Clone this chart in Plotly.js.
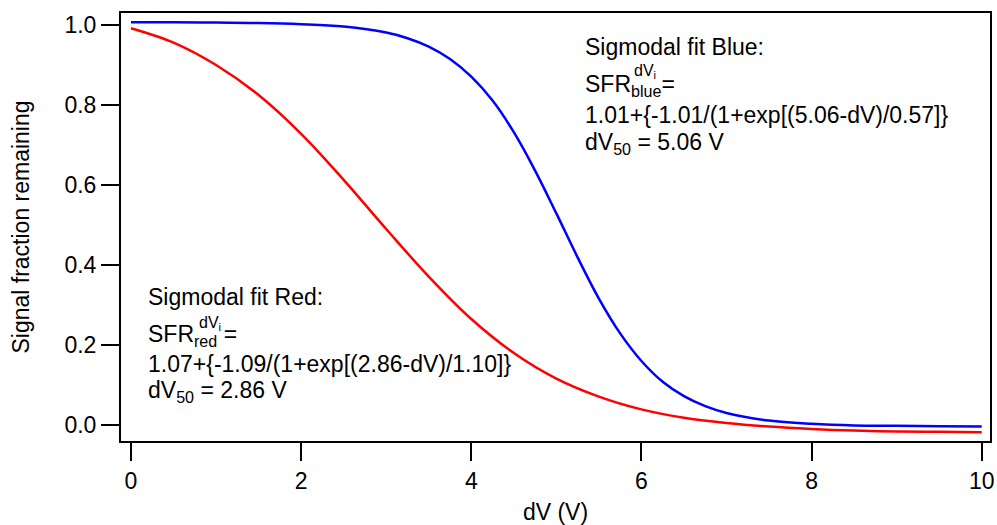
<!DOCTYPE html>
<html>
<head>
<meta charset="utf-8">
<script src="https://cdn.plot.ly/plotly-3.0.1.min.js"></script>
<style>html,body{margin:0;padding:0;background:#fff;}#chart{width:997px;height:525px;}</style>
</head>
<body>
<div id="chart"></div>
<script>
// Blue curve
const blueX = [0,0.5,1,1.5,2,2.5,3,3.25,3.5,3.75,4,4.25,4.5,4.75,5,5.25,5.5,5.75,6,6.25,6.5,6.75,7,7.5,8,8.5,9,9.5,10];
const blueY = [1.007,1.007,1.006,1.005,1.002,0.996,0.981,0.967,0.946,0.915,0.871,0.811,0.732,0.636,0.529,0.419,0.316,0.229,0.160,0.108,0.072,0.047,0.030,0.011,0.003,-0.001,-0.002,-0.003,-0.004];
// Red curve
const redX = [0,0.5,1,1.5,2,2.5,3,3.5,4,4.5,5,5.5,6,6.5,7,7.5,8,8.5,9,9.5,10];
const redY = [0.992,0.956,0.900,0.825,0.728,0.613,0.490,0.371,0.265,0.180,0.116,0.071,0.039,0.018,0.005,-0.004,-0.010,-0.014,-0.016,-0.017,-0.018];
const xTicks = [0,2,4,6,8,10];
const yTicks = [0.0,0.2,0.4,0.6,0.8,1.0];

const FONT = 'Liberation Sans, Arial, sans-serif';
const FS = 23;

const traces = [
  {x: blueX, y: blueY, mode: 'lines', line: {color: '#0000FF', width: 2.5, shape: 'spline'}, showlegend: false, hoverinfo: 'skip'},
  {x: redX, y: redY, mode: 'lines', line: {color: '#FF0000', width: 2.5, shape: 'spline'}, showlegend: false, hoverinfo: 'skip'}
];

function ann(text, x, y, size) {
  return {text: text, x: x, y: y, xref: 'x', yref: 'y', xanchor: 'left', yanchor: 'middle',
          showarrow: false, font: {family: FONT, size: size || FS, color: '#000'}, align: 'left'};
}

const annotations = [
  ann('Sigmodal fit Blue:', 5.315, 0.945),
  ann('SFR<sub>blue</sub>=', 5.315, 0.85),
  ann('dV<sub>i</sub>', 5.89, 0.884, 16),
  ann('1.01+{-1.01/(1+exp[(5.06-dV)/0.57]}', 5.315, 0.775),
  ann('dV<sub>50</sub> = 5.06 V', 5.315, 0.705),
  ann('Sigmodal fit Red:', 0.18, 0.32),
  ann('SFR<sub>red</sub> =', 0.18, 0.225),
  ann('dV<sub>i</sub>', 0.78, 0.254, 16),
  ann('1.07+{-1.09/(1+exp[(2.86-dV)/1.10]}', 0.18, 0.1525),
  ann('dV<sub>50</sub> = 2.86 V', 0.18, 0.083)
];

const layout = {
  width: 997, height: 525,
  margin: {l: 121, r: 7, t: 13, b: 84},
  paper_bgcolor: '#fff', plot_bgcolor: '#fff',
  font: {family: FONT, size: FS, color: '#000'},
  xaxis: {
    range: [-0.1175, 10.0975], tickvals: xTicks, ticktext: xTicks.map(String),
    showgrid: false, zeroline: false, showline: true, mirror: true, linecolor: '#000', linewidth: 2,
    ticks: 'outside', ticklen: 18, tickwidth: 2, tickcolor: '#000',
    tickfont: {family: FONT, size: FS, color: '#000'},
    title: {text: 'dV (V)', font: {family: FONT, size: FS, color: '#000'}, standoff: 11},
    automargin: false
  },
  yaxis: {
    range: [-0.04, 1.03], tickvals: yTicks, ticktext: yTicks.map(v => v.toFixed(1)),
    showgrid: false, zeroline: false, showline: true, mirror: true, linecolor: '#000', linewidth: 2,
    ticks: 'outside', ticklen: 18, tickwidth: 2, tickcolor: '#000',
    tickfont: {family: FONT, size: FS, color: '#000'},
    title: {text: 'Signal fraction remaining', font: {family: FONT, size: FS, color: '#000'}, standoff: 28},
    automargin: false
  },
  annotations: annotations
};

Plotly.newPlot('chart', traces, layout, {displayModeBar: false, staticPlot: true});
</script>
</body>
</html>
